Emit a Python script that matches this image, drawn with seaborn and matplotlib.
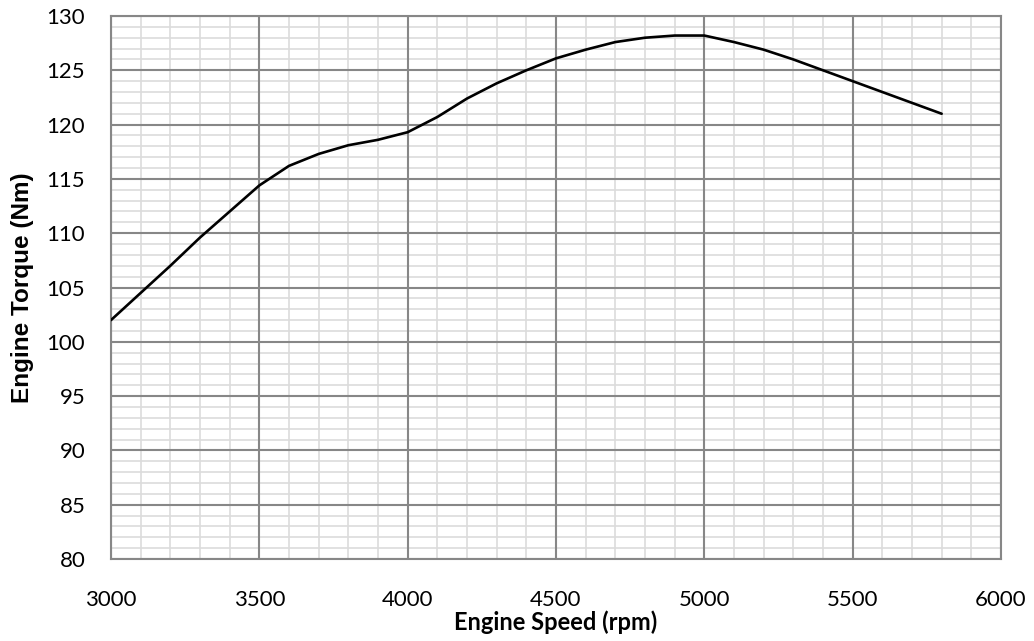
import numpy as np
import pandas as pd
import matplotlib
matplotlib.use("Agg")
import matplotlib.pyplot as plt
from matplotlib.ticker import MultipleLocator
import seaborn as sns

# Full-load torque curve
engine_speed_rpm = [3000, 3100, 3200, 3300, 3400, 3500, 3600, 3700, 3800, 3900,
                    4000, 4100, 4200, 4300, 4400, 4500, 4600, 4700, 4800, 4900,
                    5000, 5100, 5200, 5300, 5400, 5500, 5600, 5700, 5800]
engine_torque_nm = [102.0, 104.5, 107.0, 109.6, 112.0, 114.4, 116.2, 117.3, 118.1, 118.6,
                    119.3, 120.7, 122.4, 123.8, 125.0, 126.1, 126.9, 127.6, 128.0, 128.2,
                    128.2, 127.6, 126.9, 126.0, 125.0, 124.0, 123.0, 122.0, 121.0]
x_ticks = [3000, 3500, 4000, 4500, 5000, 5500, 6000]
y_ticks = [80, 85, 90, 95, 100, 105, 110, 115, 120, 125, 130]

df = pd.DataFrame({"speed": engine_speed_rpm, "torque": engine_torque_nm})

sns.set_theme(style="white")
plt.rcParams["font.family"] = ["Lato", "DejaVu Sans"]
plt.rcParams["text.color"] = "black"
plt.rcParams["axes.labelcolor"] = "black"

fig = plt.figure(figsize=(10.34, 6.41), dpi=100)
ax = fig.add_axes([111 / 1034, 1 - 559 / 641, 890 / 1034, 543 / 641])

major_c = "#878787"
minor_c = "#dcdcdc"

x_lo, x_hi = x_ticks[0], x_ticks[-1]
y_lo, y_hi = y_ticks[0], y_ticks[-1]
ax.set_xlim(x_lo, x_hi)
ax.set_ylim(y_lo, y_hi)
ax.set_xticks(x_ticks)
ax.set_yticks(y_ticks)
ax.xaxis.set_minor_locator(MultipleLocator(100))
ax.yaxis.set_minor_locator(MultipleLocator(1))

# fine grid from the axis, heavy grid drawn over it
ax.grid(which="minor", color=minor_c, linewidth=1.2, zorder=0)
ax.grid(which="major", visible=False)
ax.set_axisbelow(True)
ax.vlines(x_ticks, y_lo, y_hi, colors=major_c, linewidth=1.5, zorder=1)
ax.hlines(y_ticks, x_lo, x_hi, colors=major_c, linewidth=1.5, zorder=1)

sns.lineplot(data=df, x="speed", y="torque", ax=ax, color="black",
             linewidth=1.9, zorder=3)

for side in ["left", "right", "top", "bottom"]:
    ax.spines[side].set_visible(True)
    ax.spines[side].set_color(major_c)
    ax.spines[side].set_linewidth(1.5)

ax.tick_params(axis="both", which="major", direction="out", length=6.5,
               width=1.5, color=major_c, labelsize=16, labelcolor="black")
ax.tick_params(axis="x", which="major", pad=16)
ax.tick_params(axis="y", which="major", pad=12)
ax.tick_params(which="minor", length=0)

ax.set_xlabel("Engine Speed (rpm)", fontsize=17, fontweight="bold",
              family=["Lato", "DejaVu Sans"], labelpad=0, color="black")
ax.set_ylabel("Engine Torque (Nm)", fontsize=17.5, fontweight="bold",
              family=["Liberation Sans", "DejaVu Sans"], labelpad=9, color="black")

fig.savefig("out.png", dpi=100)
